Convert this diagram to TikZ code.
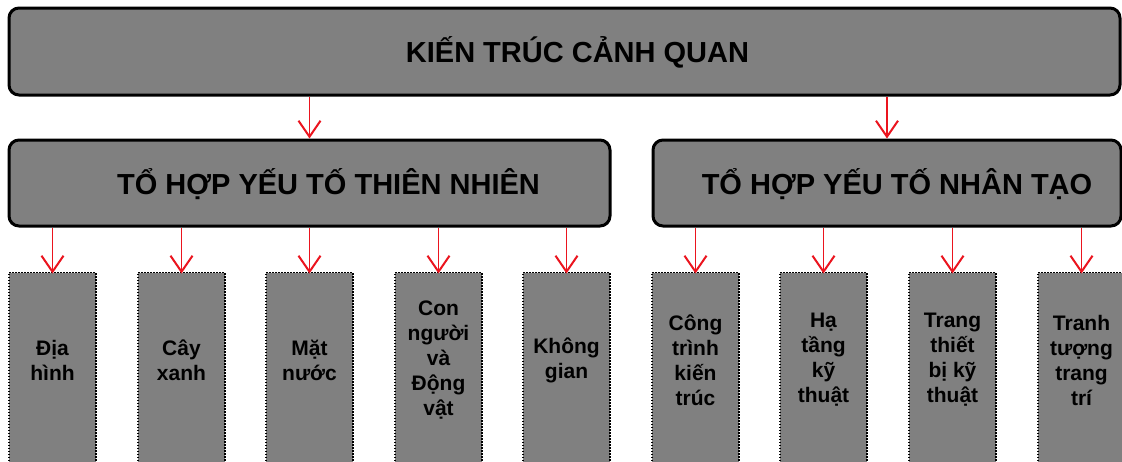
\documentclass[tikz,border=0pt]{standalone}
\usepackage{fontspec}
\setmainfont{Liberation Sans}
\usetikzlibrary{arrows.meta}

\definecolor{boxgray}{RGB}{128,128,128}
\definecolor{arrowred}{RGB}{235,20,30}

\tikzset{
  headbox/.style={draw=black, line width=3pt, fill=boxgray, rounded corners=10pt,
    inner sep=0pt},
  itembox/.style={draw=black, line width=1.4pt, dash pattern=on 1.6pt off 1.4pt,
    fill=boxgray, inner sep=0pt, minimum width=87pt, minimum height=200pt,
    anchor=north},
  headtext/.style={font=\bfseries\fontsize{29}{34}\selectfont, inner sep=0pt},
  itemtext/.style={font=\bfseries\fontsize{21}{25}\selectfont, align=center,
    inner sep=0pt},
  link/.style={draw=arrowred, line width=1.4pt,
    -{Straight Barb[length=16pt, width=22pt, line width=2pt]}},
}

\begin{document}
\begin{tikzpicture}[x=1pt, y=-1pt]
  \clip (0,0) rectangle (1122,461);
  \fill[white] (0,0) rectangle (1122,461);

  % top level
  \node[headbox, minimum width=1111pt, minimum height=87pt] (top) at (564.5,51.5) {};
  \node[headtext] (toptxt) at (577.5,52) {KIẾN TRÚC CẢNH QUAN};

  % second level
  \node[headbox, minimum width=601pt, minimum height=86pt] (nat) at (309.5,183) {};
  \node[headtext] (nattxt) at (328.5,184) {TỔ HỢP YẾU TỐ THIÊN NHIÊN};
  \node[headbox, minimum width=468pt, minimum height=86pt] (art) at (887,183) {};
  \node[headtext] (arttxt) at (897,184) {TỔ HỢP YẾU TỐ NHÂN TẠO};

  \draw[link] (top.south -| nat.north) -- (nat.north);
  \draw[link] (top.south -| art.north) -- (art.north);

  % third level boxes
  \foreach \n/\x in {1/52.5, 2/181.5, 3/309.5, 4/438.5, 5/566.5,
                     6/695.5, 7/823.5, 8/952.5, 9/1081.5} {
    \node[itembox] (b\n) at (\x,272) {};
  }

  \node[itemtext] (t1) at (b1.north |- 0,360) {Địa\\hình};
  \node[itemtext] (t2) at (b2.north |- 0,360) {Cây\\xanh};
  \node[itemtext] (t3) at (b3.north |- 0,360) {Mặt\\nước};
  \node[itemtext] (t4) at (b4.north |- 0,360) {Con\\người\\và\\Động\\vật};
  \node[itemtext] (t5) at (b5.north |- 0,360) {Không\\gian};
  \node[itemtext] (t6) at (b6.north |- 0,360) {Công\\trình\\kiến\\trúc};
  \node[itemtext] (t7) at (b7.north |- 0,360) {Hạ\\tầng\\kỹ\\thuật};
  \node[itemtext] (t8) at (b8.north |- 0,360) {Trang\\thiết\\bị kỹ\\thuật};
  \node[itemtext] (t9) at (b9.north |- 0,360) {Tranh\\tượng\\trang\\trí};

  \foreach \n in {1,...,5} {
    \draw[link] (nat.south -| b\n.north) -- ([yshift=-1.5pt]b\n.north);
  }
  \foreach \n in {6,...,9} {
    \draw[link] (art.south -| b\n.north) -- ([yshift=-1.5pt]b\n.north);
  }
\end{tikzpicture}
\end{document}
